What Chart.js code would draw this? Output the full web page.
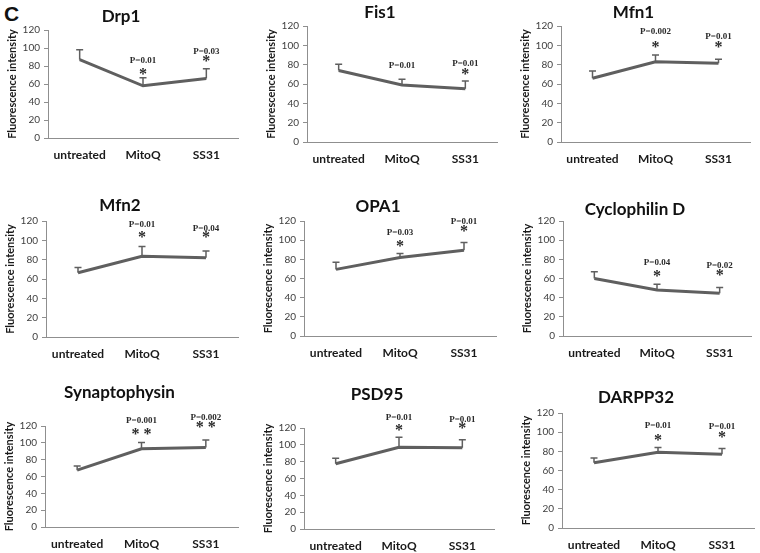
<!DOCTYPE html>
<html>
<head>
<meta charset="utf-8">
<script src="https://cdn.jsdelivr.net/npm/chart.js@4.4.1/dist/chart.umd.min.js"></script>
<style>
    body { margin: 0; background: #fff; width: 760px; height: 553px; position: relative; overflow: hidden; }
    canvas { position: absolute; }
    #tag { position: absolute; left: 4px; top: 2px; font: bold 21px "Liberation Sans", Arial, sans-serif; color: #111; }
</style>
</head>
<body>
<div id="tag">C</div>
<div id="panels"></div>
<script>
/* =======================================================
   DATA
   ======================================================= */
const categories = ["untreated", "MitoQ", "SS31"];
const yTicks = [0, 20, 40, 60, 80, 100, 120];
const yTitle = "Fluorescence intensity";

const drp1Values = [87, 58, 66];
const drp1Errors = [11, 9, 11];
const drp1PValues = ["", "P=0.01", "P=0.03"];
const drp1Stars = ["", "*", "*"];

const fis1Values = [74, 59, 55];
const fis1Errors = [6.5, 6, 8];
const fis1PValues = ["", "P=0.01", "P=0.01"];
const fis1Stars = ["", "", "*"];

const mfn1Values = [66, 83, 81.5];
const mfn1Errors = [7.5, 7, 4];
const mfn1PValues = ["", "P=0.002", "P=0.01"];
const mfn1Stars = ["", "*", "*"];

const mfn2Values = [66.5, 83.5, 82];
const mfn2Errors = [5.5, 10, 7];
const mfn2PValues = ["", "P=0.01", "P=0.04"];
const mfn2Stars = ["", "*", "*"];

const opa1Values = [69.5, 82, 89.5];
const opa1Errors = [7.5, 4, 8];
const opa1PValues = ["", "P=0.03", "P=0.01"];
const opa1Stars = ["", "*", "*"];

const cypdValues = [60, 48, 44.5];
const cypdErrors = [7, 6, 6];
const cypdPValues = ["", "P=0.04", "P=0.02"];
const cypdStars = ["", "*", "*"];

const synValues = [67.5, 93, 94.5];
const synErrors = [5, 7.5, 9];
const synPValues = ["", "P=0.001", "P=0.002"];
const synStars = ["", "**", "**"];

const psdValues = [77.5, 97, 96.5];
const psdErrors = [6.5, 12, 9.5];
const psdPValues = ["", "P=0.01", "P=0.01"];
const psdStars = ["", "*", "*"];

const darppValues = [68, 79, 77];
const darppErrors = [5, 5, 6];
const darppPValues = ["", "P=0.01", "P=0.01"];
const darppStars = ["", "*", "*"];

const panels = [
    { name: "Drp1", values: drp1Values, errors: drp1Errors, pValues: drp1PValues, stars: drp1Stars },
    { name: "Fis1", values: fis1Values, errors: fis1Errors, pValues: fis1PValues, stars: fis1Stars },
    { name: "Mfn1", values: mfn1Values, errors: mfn1Errors, pValues: mfn1PValues, stars: mfn1Stars },
    { name: "Mfn2", values: mfn2Values, errors: mfn2Errors, pValues: mfn2PValues, stars: mfn2Stars },
    { name: "OPA1", values: opa1Values, errors: opa1Errors, pValues: opa1PValues, stars: opa1Stars },
    { name: "Cyclophilin D", values: cypdValues, errors: cypdErrors, pValues: cypdPValues, stars: cypdStars },
    { name: "Synaptophysin", values: synValues, errors: synErrors, pValues: synPValues, stars: synStars },
    { name: "PSD95", values: psdValues, errors: psdErrors, pValues: psdPValues, stars: psdStars },
    { name: "DARPP32", values: darppValues, errors: darppErrors, pValues: darppPValues, stars: darppStars }
];

/* =======================================================
   LAYOUT (plot box per panel, in page pixels)
   ======================================================= */
const boxes = [
    { left: 48,  width: 190, top: 30,  bottom: 138, titleX: 135, titleY: 17,  starGap: 6,  pGap: 17 },
    { left: 307, width: 190, top: 26,  bottom: 142, titleX: 393, titleY: 13,  starGap: 5,  pGap: 17 },
    { left: 561, width: 189, top: 26,  bottom: 142, titleX: 646, titleY: 13,  starGap: 11, pGap: 23 },
    { left: 46,  width: 192, top: 221, bottom: 337, titleX: 122, titleY: 206, starGap: 12, pGap: 22 },
    { left: 304, width: 192, top: 221, bottom: 336, titleX: 402, titleY: 207, starGap: 10, pGap: 21 },
    { left: 563, width: 188, top: 221, bottom: 336, titleX: 661, titleY: 210, starGap: 11, pGap: 22 },
    { left: 45,  width: 193, top: 426, bottom: 527, titleX: 141, titleY: 393, starGap: 11, pGap: 22 },
    { left: 304, width: 190, top: 428, bottom: 529, titleX: 396, titleY: 395, starGap: 10, pGap: 20 },
    { left: 562, width: 192, top: 413, bottom: 528, titleX: 659, titleY: 398, starGap: 10, pGap: 22 }
];

const Y_AXIS_W = 44;
const X_AXIS_H = 30;
const TITLE_SIZE = 17;
const lineColor = "#5f5f5f";
const axisColor = "#8f8f8f";

/* =======================================================
   ERROR BARS + P VALUES
   ======================================================= */
const errorBars = {
    id: "errorBars",
    beforeDatasetsDraw(chart) {
        const { ctx } = chart;
        const y = chart.scales.y;
        const ds = chart.data.datasets[0];
        const meta = chart.getDatasetMeta(0);
        ctx.save();
        ctx.strokeStyle = lineColor;
        ctx.lineWidth = 1.5;
        meta.data.forEach((pt, i) => {
            const top = y.getPixelForValue(ds.data[i] + ds.errors[i]);
            ctx.beginPath();
            ctx.moveTo(pt.x, pt.y);
            ctx.lineTo(pt.x, top);
            ctx.moveTo(pt.x - 3.5, top);
            ctx.lineTo(pt.x + 3.5, top);
            ctx.stroke();
        });
        ctx.restore();
    },
    afterDatasetsDraw(chart, args, opts) {
        const { ctx } = chart;
        const y = chart.scales.y;
        const ds = chart.data.datasets[0];
        const meta = chart.getDatasetMeta(0);
        ctx.save();
        ctx.fillStyle = "#2a2a2a";
        ctx.textAlign = "center";
        meta.data.forEach((pt, i) => {
            const top = y.getPixelForValue(ds.data[i] + ds.errors[i]);
            const star = ds.stars[i];
            const p = ds.pValues[i];
            if (star) {
                ctx.font = "bold 16px 'Liberation Serif', serif";
                const s = star.split("").join(" ");
                const m = ctx.measureText(s);
                const cy = top - opts.starGap;
                ctx.textBaseline = "alphabetic";
                ctx.fillText(s, pt.x, cy + (m.actualBoundingBoxAscent - m.actualBoundingBoxDescent) / 2);
            }
            if (p) {
                ctx.font = "bold 9px 'Liberation Serif', serif";
                ctx.textBaseline = "middle";
                const gap = star ? opts.pGap : opts.starGap + 8;
                ctx.fillText(p, pt.x, top - gap);
            }
        });
        ctx.restore();
    }
};

/* =======================================================
   BUILD CHARTS
   ======================================================= */
const holder = document.getElementById("panels");

panels.forEach((panel, k) => {
    const b = boxes[k];
    const canvasTop = Math.round(b.titleY - 12);
    const titleLine = TITLE_SIZE * 1.2;
    const padTop = b.titleY - canvasTop - titleLine / 2;
    const padBottom = (b.top - canvasTop) - padTop - titleLine;
    // title box spans the whole canvas, so widen the right side to move its centre
    const rightPad = Math.max(0, 2 * (b.titleX - b.left - b.width / 2) + Y_AXIS_W);

    const canvas = document.createElement("canvas");
    canvas.width = Y_AXIS_W + b.width + rightPad;
    canvas.height = (b.bottom - canvasTop) + X_AXIS_H;
    canvas.style.left = (b.left - Y_AXIS_W) + "px";
    canvas.style.top = canvasTop + "px";
    holder.appendChild(canvas);

    new Chart(canvas, {
        type: "line",
        data: {
            labels: categories,
            datasets: [{
                data: panel.values,
                errors: panel.errors,
                pValues: panel.pValues,
                stars: panel.stars,
                borderColor: lineColor,
                borderWidth: 3,
                pointRadius: 0,
                tension: 0,
                fill: false
            }]
        },
        options: {
            responsive: false,
            animation: false,
            devicePixelRatio: 1,
            layout: { padding: { left: 0, right: rightPad, top: 0, bottom: 0 } },
            plugins: {
                legend: { display: false },
                tooltip: { enabled: false },
                title: {
                    display: true,
                    text: panel.name,
                    color: "#111",
                    font: { family: "Lato", size: TITLE_SIZE, weight: "bold" },
                    padding: { top: padTop, bottom: padBottom }
                },
                errorBars: { starGap: b.starGap, pGap: b.pGap }
            },
            scales: {
                x: {
                    offset: true,
                    grid: { display: false, drawTicks: false },
                    border: { display: true, color: axisColor, width: 1 },
                    ticks: {
                        padding: 10,
                        color: "#1a1a1a",
                        font: { family: "Lato", size: 12, weight: "bold" }
                    },
                    afterFit: (scale) => { scale.height = X_AXIS_H; }
                },
                y: {
                    min: yTicks[0],
                    max: yTicks[yTicks.length - 1],
                    afterBuildTicks: (scale) => { scale.ticks = yTicks.map(v => ({ value: v })); },
                    grid: { drawOnChartArea: false, drawTicks: true, tickLength: 4, color: axisColor },
                    border: { display: true, color: axisColor, width: 1 },
                    ticks: {
                        padding: 4,
                        color: "#404040",
                        font: { family: "Lato", size: 10 }
                    },
                    title: {
                        display: true,
                        text: yTitle,
                        color: "#1a1a1a",
                        font: { family: "Lato", size: 11, weight: "bold" },
                        padding: { top: 2, bottom: 0 }
                    },
                    afterFit: (scale) => { scale.width = Y_AXIS_W; }
                }
            }
        },
        plugins: [errorBars]
    });
});
</script>
</body>
</html>
